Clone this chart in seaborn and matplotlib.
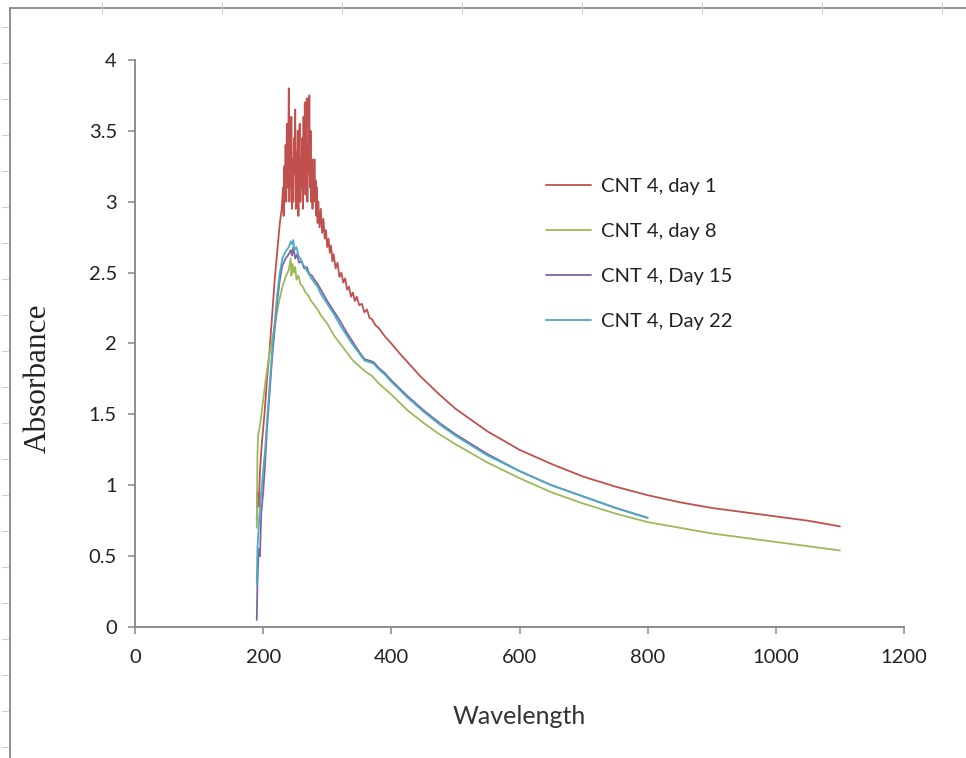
import numpy as np
import pandas as pd
import matplotlib
matplotlib.use("Agg")
import matplotlib.pyplot as plt
from matplotlib.lines import Line2D
import seaborn as sns

# ---------------- data ----------------
series_names = ["CNT 4, day 1", "CNT 4, day 8", "CNT 4, Day 15", "CNT 4, Day 22"]
series_colors = ["#C0504D", "#9BBB59", "#8064A2", "#4BACC6"]

day1_wl = [190, 191, 193, 195, 198, 202, 206, 210, 214, 218, 222, 226, 229,
           231, 232, 233, 234, 235, 236, 237, 238, 239, 240, 241, 242, 243, 244,
           245, 246, 247, 248, 249, 250, 251, 252, 253, 254, 255, 256, 257, 258,
           259, 260, 261, 262, 263, 264, 265, 266, 267, 268, 269, 270, 271, 272,
           273, 274, 275, 276, 277, 278, 279, 280, 281, 282, 283, 284, 285, 286,
           288, 290, 292, 294, 296, 298, 300, 302, 304, 306, 308, 310, 313, 316,
           319, 322, 325, 328, 331, 334, 337, 340, 343, 346, 350, 354, 358, 362,
           366, 370, 375, 380, 390, 400, 413, 425, 445, 475, 500,
           550, 600, 650, 700, 750, 800, 850, 900, 950, 1000, 1050, 1100]
day1_abs = [0.75, 0.95, 0.85, 1.10, 1.30, 1.50, 1.75, 1.95, 2.20, 2.45, 2.65, 2.85, 2.95,
            3.10, 2.90, 3.25, 3.05, 3.40, 3.00, 3.55, 3.10, 3.30, 3.80, 3.00, 3.50, 3.10, 3.60,
            2.95, 3.30, 3.00, 3.45, 3.20, 3.65, 2.95, 3.35, 3.05, 3.50, 2.90, 3.40, 3.55, 3.00,
            3.30, 3.10, 3.45, 2.95, 3.60, 3.10, 3.70, 3.05, 3.50, 3.73, 3.00, 3.40, 3.20, 3.75,
            3.10, 3.50, 3.00, 3.30, 2.95, 3.25, 3.00, 3.30, 3.05, 3.15, 2.90, 3.10, 2.85, 3.00,
            2.82, 2.95, 2.78, 2.88, 2.74, 2.80, 2.68, 2.74, 2.64, 2.69, 2.58, 2.63, 2.53, 2.57,
            2.47, 2.50, 2.43, 2.46, 2.38, 2.40, 2.33, 2.36, 2.30, 2.33, 2.27, 2.28, 2.22, 2.24,
            2.18, 2.17, 2.13, 2.11, 2.05, 2.00, 1.93, 1.87, 1.77, 1.64, 1.54,
            1.38, 1.25, 1.15, 1.06, 0.99, 0.93, 0.88, 0.84, 0.81, 0.78, 0.75, 0.71]

day8_wl = [190, 191, 192, 195, 200, 205, 210, 215, 220, 225, 230, 235, 240, 243,
           244, 246, 248, 250, 252, 255, 258, 262, 266, 270, 275, 280, 285, 290,
           300, 310, 320, 330, 340, 350, 360, 370, 380, 400, 425, 450, 475, 500,
           550, 600, 650, 700, 750, 800, 850, 900, 950, 1000, 1050, 1100]
day8_abs = [0.70, 1.20, 1.35, 1.42, 1.60, 1.78, 1.93, 2.05, 2.18, 2.30, 2.40, 2.47, 2.52, 2.60,
            2.48, 2.56, 2.50, 2.54, 2.45, 2.48, 2.42, 2.40, 2.36, 2.34, 2.30, 2.27, 2.24, 2.20,
            2.14, 2.06, 2.00, 1.94, 1.88, 1.84, 1.80, 1.77, 1.72, 1.64, 1.53, 1.44, 1.36, 1.29,
            1.16, 1.05, 0.95, 0.87, 0.80, 0.74, 0.70, 0.66, 0.63, 0.60, 0.57, 0.54]

day15_wl = [190, 191, 193, 195, 197, 200, 203, 206, 210, 214, 218, 222, 226, 230,
            235, 240, 243, 245, 247, 250, 253, 256, 260, 264, 268, 272, 276, 280,
            285, 290, 300, 310, 320, 330, 340, 350, 358, 365, 372, 380, 390, 400,
            425, 450, 475, 500, 550, 600, 650, 700, 750, 800]
day15_abs = [0.05, 0.30, 0.55, 0.50, 0.80, 0.95, 1.15, 1.40, 1.65, 1.90, 2.10, 2.30, 2.45, 2.55,
             2.60, 2.63, 2.66, 2.62, 2.68, 2.60, 2.63, 2.57, 2.58, 2.53, 2.54, 2.49, 2.48, 2.45,
             2.42, 2.38, 2.30, 2.23, 2.16, 2.08, 2.01, 1.94, 1.89, 1.88, 1.87, 1.83, 1.79, 1.74,
             1.63, 1.53, 1.44, 1.36, 1.22, 1.10, 1.00, 0.92, 0.84, 0.77]

day22_wl = [190, 191, 193, 195, 198, 200, 203, 206, 210, 214, 218, 222, 226, 230,
            235, 240, 243, 245, 247, 249, 252, 255, 258, 262, 266, 270, 275, 280,
            285, 290, 300, 310, 320, 330, 340, 350, 358, 365, 372, 380, 390, 400,
            425, 450, 475, 500, 550, 600, 650, 700, 750, 800]
day22_abs = [0.30, 0.55, 0.70, 0.85, 1.00, 1.10, 1.25, 1.45, 1.70, 1.95, 2.15, 2.35, 2.50, 2.60,
             2.65, 2.68, 2.72, 2.70, 2.73, 2.66, 2.68, 2.62, 2.60, 2.56, 2.53, 2.50, 2.46, 2.43,
             2.40, 2.35, 2.28, 2.21, 2.13, 2.06, 1.99, 1.93, 1.88, 1.87, 1.86, 1.82, 1.78, 1.73,
             1.62, 1.52, 1.43, 1.35, 1.21, 1.10, 1.00, 0.92, 0.84, 0.77]

x_ticks = [0, 200, 400, 600, 800, 1000, 1200]
y_ticks = [0, 0.5, 1, 1.5, 2, 2.5, 3, 3.5, 4]
y_tick_labels = ["0", "0.5", "1", "1.5", "2", "2.5", "3", "3.5", "4"]

# ---------------- build long-form table ----------------
frames = []
for name, wl, ab in zip(series_names,
                        [day1_wl, day8_wl, day15_wl, day22_wl],
                        [day1_abs, day8_abs, day15_abs, day22_abs]):
    frames.append(pd.DataFrame({"Wavelength": wl, "Absorbance": ab, "Series": name}))
df = pd.concat(frames, ignore_index=True)

# ---------------- figure ----------------
sns.set_theme(style="white")
plt.rcParams["font.family"] = ["Lato", "DejaVu Sans"]

W, H = 966, 758
fig = plt.figure(figsize=(W / 100, H / 100), dpi=100)
ax = fig.add_axes([135 / W, 1 - 627 / H, (904 - 135) / W, (627 - 60) / H])

palette = dict(zip(series_names, series_colors))
sns.lineplot(data=df, x="Wavelength", y="Absorbance", hue="Series",
             palette=palette, estimator=None, sort=False, linewidth=1.3,
             ax=ax, legend=False)

ax.set_xlim(0, 1200)
ax.set_ylim(0, 4)
ax.set_xticks(x_ticks)
ax.set_xticklabels([str(t) for t in x_ticks])
ax.set_yticks(y_ticks)
ax.set_yticklabels(y_tick_labels)

axis_grey = "#868686"
for side in ["top", "right"]:
    ax.spines[side].set_visible(False)
for side in ["left", "bottom"]:
    ax.spines[side].set_color(axis_grey)
    ax.spines[side].set_linewidth(1.3)

ax.tick_params(axis="x", direction="out", length=5, width=1.1, color=axis_grey,
               labelsize=14.5, labelcolor="#222222", pad=11, bottom=True)
ax.tick_params(axis="y", direction="out", length=5, width=1.1, color=axis_grey,
               labelsize=14.5, labelcolor="#222222", pad=8, left=True)

ax.set_xlabel("Wavelength", fontsize=18, color="#333333", labelpad=28)
ax.set_ylabel("Absorbance", fontsize=22.5, color="#222222",
              family=["Liberation Serif", "DejaVu Serif"])
ax.yaxis.set_label_coords((53 - 135) / (904 - 135), (627 - 378) / (627 - 60))

handles = [Line2D([0], [0], color=c, lw=1.3) for c in series_colors]
leg = ax.legend(handles, series_names, loc="upper left",
                bbox_to_anchor=((538 - 135) / (904 - 135), 1 - (170 - 60) / (627 - 60)),
                frameon=False, fontsize=14.5, handlelength=2.25, handletextpad=0.5,
                labelspacing=1.38, borderaxespad=0)
for t in leg.get_texts():
    t.set_color("#222222")

# outer chart-area border (cropped) and faint ruler marks
fig.add_artist(Line2D([10 / W, 10 / W], [0, 1 - 8 / H], transform=fig.transFigure,
                      color="#7f7f7f", lw=1.2))
fig.add_artist(Line2D([10 / W, 1], [1 - 8 / H, 1 - 8 / H], transform=fig.transFigure,
                      color="#7f7f7f", lw=1.2))
for px in range(102, W, 120):
    fig.add_artist(Line2D([px / W, px / W], [1 - 2 / H, 1 - 14 / H],
                          transform=fig.transFigure, color="#d0d0d0", lw=0.8))
for py in range(27, H, 36):
    fig.add_artist(Line2D([2 / W, 8 / W], [1 - py / H, 1 - py / H],
                          transform=fig.transFigure, color="#d0d0d0", lw=0.8))

fig.savefig("out.png", dpi=100, facecolor="white")
